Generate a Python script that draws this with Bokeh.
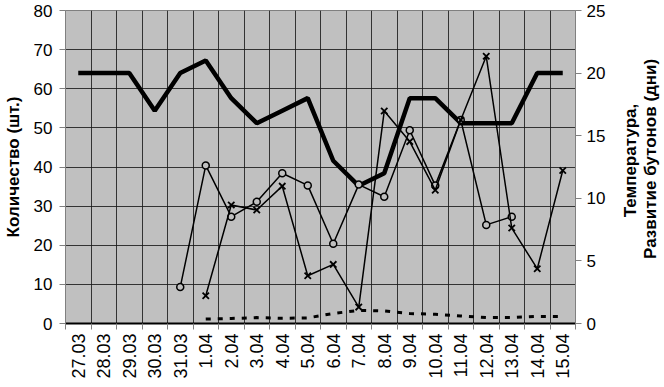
import math
from bokeh.plotting import figure
from bokeh.layouts import row
from bokeh.models import (Range1d, LinearAxis, FixedTicker, CustomJSTickFormatter, Label)
from bokeh.embed import file_html
from bokeh.resources import INLINE

NaN = float("nan")

categories = ["27.03", "28.03", "29.03", "30.03", "31.03", "1.04", "2.04", "3.04",
              "4.04", "5.04", "6.04", "7.04", "8.04", "9.04", "10.04", "11.04",
              "12.04", "13.04", "14.04", "15.04"]

# right axis: temperature
temperature = [20, 20, 20, 17, 20, 21, 18, 16, 17, 18, 13, 11, 12, 18, 18, 16, 16, 16, 20, 20]
# right axis: bud development (days)
bud_days = [NaN, NaN, NaN, NaN, NaN, 0.35, 0.4, 0.47, 0.42, 0.45, 0.8, 1.05, 1.0, 0.8,
            0.73, 0.6, 0.47, 0.47, 0.57, 0.55]
# left axis: counts
count_circle = [NaN, NaN, NaN, NaN, 9.3, 40.4, 27.3, 31.1, 38.4, 35.3, 20.4, 35.5, 32.4,
                49.4, 35.3, 52, 25.2, 27.3, NaN, NaN]
count_cross = [NaN, NaN, NaN, NaN, NaN, 7.1, 30.3, 29.0, 35.1, 12.2, 15.1, 4.2, 54.3,
               46.5, 34.1, 52, 68.3, 24.4, 14.0, 39.1]

left_ticks = [0, 10, 20, 30, 40, 50, 60, 70, 80]
right_ticks = [0, 5, 10, 15, 20, 25]

left_title = "Количество (шт.)"
right_title_lines = ["Температура,", "Развитие бутонов (дни)"]

n = len(categories)
xs = [i + 0.5 for i in range(n)]
edges = list(range(n + 1))

FONT = "Liberation Sans"
H = 377

p = figure(frame_width=510, frame_height=313, x_range=Range1d(0, n), y_range=Range1d(0, 80),
           output_backend="svg", toolbar_location=None,
           min_border_left=59, min_border_right=40, min_border_top=10, min_border_bottom=54,
           x_axis_location="below")
p.extra_y_ranges = {"right": Range1d(0, 25)}

p.background_fill_color = "#c0c0c0"
p.border_fill_color = "white"
p.outline_line_color = "#808080"
p.outline_line_width = 1

# grids
p.xgrid.ticker = FixedTicker(ticks=edges)
p.ygrid.ticker = FixedTicker(ticks=left_ticks)
for g in (p.xgrid, p.ygrid):
    g.grid_line_color = "#1a1a1a"
    g.grid_line_width = 1
    g.grid_line_alpha = 0.85

# x axis
xa = p.xaxis[0]
xa.ticker = FixedTicker(ticks=xs, minor_ticks=edges)
xa.formatter = CustomJSTickFormatter(args=dict(labels=categories),
                                     code="return labels[Math.floor(tick)];")
xa.major_label_orientation = math.pi / 2
xa.major_tick_out = 0
xa.major_tick_in = 0
xa.minor_tick_out = 6
xa.minor_tick_in = 0
xa.minor_tick_line_color = "#808080"
xa.axis_line_color = "black"
xa.axis_line_width = 2
xa.major_label_text_font = FONT
xa.major_label_text_font_size = "18px"
xa.major_label_text_color = "black"
xa.major_label_standoff = 4

# left axis
ya = p.yaxis[0]
ya.ticker = FixedTicker(ticks=left_ticks)
ya.axis_label = left_title
ya.axis_label_text_font = FONT
ya.axis_label_text_font_style = "bold"
ya.axis_label_text_font_size = "17px"
ya.axis_label_text_color = "black"
ya.axis_label_standoff = 8
ya.major_label_text_font = FONT
ya.major_label_text_font_size = "17px"
ya.major_label_text_color = "black"
ya.major_label_standoff = 7
ya.major_tick_out = 6
ya.major_tick_in = 0
ya.minor_tick_out = 0
ya.minor_tick_in = 0
ya.axis_line_color = "#808080"
ya.major_tick_line_color = "#808080"

# right axis
ra = LinearAxis(y_range_name="right", ticker=FixedTicker(ticks=right_ticks))
ra.major_label_text_font = FONT
ra.major_label_text_font_size = "17px"
ra.major_label_text_color = "black"
ra.major_label_standoff = 5
ra.major_tick_out = 6
ra.major_tick_in = 0
ra.minor_tick_out = 0
ra.minor_tick_in = 0
ra.axis_line_color = "#808080"
ra.major_tick_line_color = "#808080"
p.add_layout(ra, "right")

# series
p.line(xs, temperature, y_range_name="right", line_color="black", line_width=4.5)
p.line(xs, bud_days, y_range_name="right", line_color="black", line_width=3,
       line_dash="5 7")

p.line(xs, count_circle, line_color="black", line_width=1.5)
p.scatter(xs, count_circle, marker="circle", size=7, line_color="black",
          line_width=1.5, fill_color="#c0c0c0")

p.line(xs, count_cross, line_color="black", line_width=1.5)
p.scatter(xs, count_cross, marker="x", size=9, line_color="black", line_width=1.8)

# narrow side panel holding the right-axis title (reads bottom to top)
p2 = figure(width=45, height=H, x_range=Range1d(0, 45), y_range=Range1d(0, H),
            output_backend="svg", toolbar_location=None,
            x_axis_location=None, y_axis_location=None,
            min_border_left=0, min_border_right=0, min_border_top=0, min_border_bottom=0)
p2.grid.visible = False
p2.outline_line_color = None
p2.background_fill_color = "white"
p2.border_fill_color = "white"
for xpos, ypos, txt in [(15, 194, right_title_lines[0]),
                        (35, 196, right_title_lines[1])]:
    p2.add_layout(Label(x=xpos, y=ypos, text=txt, angle=math.pi / 2,
                        text_align="center", text_baseline="middle",
                        text_font=FONT, text_font_style="bold", text_font_size="17px",
                        text_color="black"))

layout = row(p, p2)
open("out.html", "w").write(file_html(layout, INLINE))
